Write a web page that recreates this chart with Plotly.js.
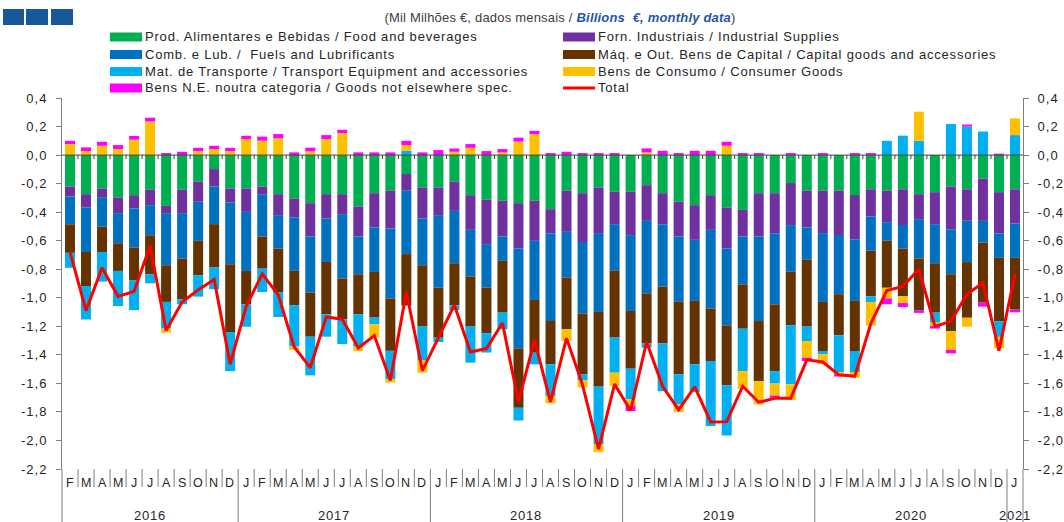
<!DOCTYPE html>
<html><head><meta charset="utf-8">
<script src="https://cdn.plot.ly/plotly-3.0.1.min.js"></script>
<style>
html,body{margin:0;padding:0;background:#fff;}
#chart{width:1064px;height:522px;}
.annotation-text{letter-spacing:0.8px;}
.ytick text, .y2tick text{letter-spacing:1px;}
</style></head><body><div id="chart"></div><script>
// ---- categories ----
const yearLabels = ['2016','2017','2018','2019','2020','2021'];
const fullYear = ['J','F','M','A','M','J','J','A','S','O','N','D'];
const yearMonths = [
  ['F','M','A','M','J','J','A','S','O','N','D'],
  fullYear, fullYear, fullYear, fullYear,
  ['J']
];
// ---- series (Mil Milhões € / Billions €) ----
const food = [-0.22,-0.274,-0.234,-0.297,-0.281,-0.243,-0.356,-0.243,-0.187,-0.098,-0.234,
  -0.234,-0.22,-0.274,-0.304,-0.337,-0.274,-0.274,-0.36,-0.267,-0.25,-0.133,-0.227,
  -0.227,-0.187,-0.281,-0.313,-0.32,-0.337,-0.32,-0.379,-0.25,-0.267,-0.227,-0.257,
  -0.257,-0.211,-0.267,-0.327,-0.351,-0.281,-0.367,-0.384,-0.267,-0.267,-0.196,-0.25,
  -0.25,-0.25,-0.28,-0.24,-0.25,-0.24,-0.274,-0.26,-0.22,-0.24,-0.164,-0.26,
  -0.24];
const industrial = [-0.07,-0.094,-0.061,-0.11,-0.094,-0.108,-0.051,-0.164,-0.14,-0.122,-0.098,
  -0.164,-0.054,-0.147,-0.133,-0.234,-0.171,-0.14,-0.211,-0.241,-0.264,-0.117,-0.218,
  -0.194,-0.204,-0.243,-0.311,-0.25,-0.318,-0.281,-0.168,-0.288,-0.342,-0.32,-0.227,
  -0.304,-0.25,-0.218,-0.243,-0.243,-0.243,-0.288,-0.187,-0.304,-0.281,-0.295,-0.257,
  -0.297,-0.31,-0.31,-0.19,-0.22,-0.25,-0.175,-0.224,-0.3,-0.22,-0.297,-0.29,
  -0.24];
const fuels = [-0.195,-0.311,-0.206,-0.211,-0.274,-0.211,-0.365,-0.318,-0.274,-0.264,-0.433,
  -0.414,-0.297,-0.234,-0.374,-0.393,-0.304,-0.451,-0.264,-0.311,-0.491,-0.444,-0.327,
  -0.508,-0.367,-0.327,-0.304,-0.171,-0.702,-0.414,-0.615,-0.32,-0.501,-0.552,-0.327,
  -0.531,-0.508,-0.437,-0.458,-0.428,-0.552,-0.538,-0.335,-0.592,-0.498,-0.327,-0.227,
  -0.482,-0.415,-0.432,-0.24,-0.13,-0.165,-0.276,-0.274,-0.315,-0.29,-0.152,-0.17,
  -0.24];
const machinery = [-0.2,-0.239,-0.178,-0.194,-0.227,-0.274,-0.257,-0.285,-0.241,-0.304,-0.475,
  -0.234,-0.225,-0.309,-0.241,-0.309,-0.367,-0.285,-0.281,-0.32,-0.367,-0.36,-0.43,
  -0.351,-0.295,-0.351,-0.32,-0.363,-0.414,-0.37,-0.304,-0.363,-0.428,-0.524,-0.468,
  -0.405,-0.351,-0.398,-0.508,-0.444,-0.367,-0.421,-0.311,-0.421,-0.468,-0.374,-0.468,
  -0.344,-0.288,-0.351,-0.32,-0.33,-0.335,-0.365,-0.346,-0.4,-0.39,-0.421,-0.444,
  -0.363];
const transport = [-0.105,-0.234,-0.208,-0.246,-0.211,-0.063,-0.187,-0.035,-0.15,-0.152,-0.274,
  -0.157,-0.164,-0.171,-0.29,-0.271,-0.157,-0.175,-0.227,-0.047,-0.199,0.03,-0.234,
  -0.03,-0.033,-0.253,-0.136,-0.117,-0.089,-0.082,-0.222,0,-0.04,-0.405,-0.246,
  -0.215,-0.03,-0.335,-0.211,-0.194,-0.456,-0.351,-0.297,0,-0.087,-0.414,-0.101,
  -0.023,-0.257,-0.147,-0.04,0.1,0.136,0.1,-0.07,0.218,0.2,0.165,-0.11,
  0.14];
const consumer = [0.077,0.028,0.065,0.042,0.108,0.236,-0.028,0,0.028,0.042,0.028,
  0.112,0.101,0.117,-0.023,0.026,0.112,0.154,-0.03,-0.094,-0.023,0.04,-0.089,
  0,0.023,0.051,0,0.019,0.094,0.147,-0.051,-0.082,-0.05,-0.054,-0.094,
  -0.047,0.019,0,-0.054,0,0,0.065,-0.124,-0.164,-0.084,-0.11,-0.117,
  -0.07,-0.016,-0.04,-0.165,-0.075,-0.047,0.204,-0.024,-0.13,-0.063,0,-0.08,
  0.117];
const other = [0.023,0.026,0.028,0.028,0.026,0.026,0.014,0.023,0.023,0.023,0.023,
  0.023,0.028,0.03,0.019,0.026,0.028,0.023,0.019,0.019,0.019,0.03,0.019,
  0.035,0.023,0.026,0.028,0.023,0.028,0.023,0.014,0.023,0.014,0.014,0.014,
  -0.035,0.028,0.03,0.014,0.03,0.03,0.028,0.014,0.014,-0.016,0.014,-0.023,
  0.014,-0.016,0.014,0.014,-0.04,-0.028,-0.016,-0.018,-0.025,0.014,-0.028,0.01,
  -0.019];
const total = [-0.68,-1.09,-0.79,-0.99,-0.955,-0.636,-1.23,-1.03,-0.945,-0.872,-1.465,
  -1.06,-0.833,-0.98,-1.345,-1.49,-1.134,-1.15,-1.352,-1.265,-1.58,-0.96,-1.51,
  -1.28,-1.05,-1.38,-1.356,-1.177,-1.73,-1.297,-1.73,-1.283,-1.61,-2.06,-1.605,
  -1.79,-1.31,-1.62,-1.785,-1.625,-1.87,-1.868,-1.62,-1.732,-1.705,-1.705,-1.435,
  -1.45,-1.54,-1.55,-1.18,-0.95,-0.92,-0.80,-1.2,-1.165,-0.975,-0.895,-1.37,
  -0.835];

const seriesNames = [
  'Prod. Alimentares e Bebidas / Food and beverages',
  'Forn. Industriais / Industrial Supplies',
  'Comb. e Lub. /  Fuels and Lubrificants',
  'Máq. e Out. Bens de Capital / Capital goods and accessories',
  'Mat. de Transporte / Transport Equipment and accessories',
  'Bens de Consumo / Consumer Goods',
  'Bens N.E. noutra categoria / Goods not elsewhere spec.'
];
const seriesColors = ['#00B050','#7030A0','#0070C0','#663300','#00B0F0','#FFC000','#FF00FF'];
const seriesValues = [food, industrial, fuels, machinery, transport, consumer, other];
const totalName = 'Total';
const totalColor = '#FF0000';

const yTicks = [0.4,0.2,0,-0.2,-0.4,-0.6,-0.8,-1.0,-1.2,-1.4,-1.6,-1.8,-2.0,-2.2];
const yTickText = yTicks.map(v => v.toFixed(1).replace('.', ','));

// ---- build ----
const monthLetters = [].concat(...yearMonths);
const idx = monthLetters.map((_, i) => i);
const N = monthLetters.length;

const traces = seriesValues.map((vals, k) => ({
  type: 'bar', x: idx, y: vals, name: seriesNames[k],
  marker: {color: seriesColors[k], line: {width: 0}},
  showlegend: false, hoverinfo: 'skip'
}));
traces.push({
  type: 'scatter', mode: 'lines', x: idx, y: total, name: totalName,
  line: {color: totalColor, width: 3}, yaxis: 'y2', showlegend: false, hoverinfo: 'skip'
});

const W = 1064, H = 522, L = 62, R = 41, T = 98, B = 53;
const pw = W - L - R, ph = H - T - B;
const px = x => (x - L) / pw;          // pixel -> paper x
const py = y => (H - B - y) / ph;      // pixel -> paper y

const font = 'Liberation Sans, Arial, sans-serif';
const txtColor = '#262626';
const shapes = [];
const annotations = [];

// zero line and its small ticks
shapes.push({type:'line', xref:'paper', yref:'y', x0:0, x1:1, y0:0, y1:0, line:{color:'#404040', width:1}, layer:'above'});
for (let i = 0; i < N - 1; i++) {
  shapes.push({type:'line', xref:'x', yref:'y', x0:i+0.5, x1:i+0.5, y0:0, y1:-0.028, line:{color:'#404040', width:1}, layer:'above'});
}
// category axis separators
let yearEnds = [];
let acc = 0;
yearMonths.forEach(m => { acc += m.length; yearEnds.push(acc - 1); });
for (let i = 0; i < N - 1; i++) {
  const isYear = yearEnds.includes(i);
  shapes.push({type:'line', xref:'x', yref:'paper', x0:i+0.5, x1:i+0.5, y0:0, y1: isYear ? py(H) : py(487),
    line:{color:'#7f7f7f', width:1}});
}
shapes.push({type:'line', xref:'paper', yref:'paper', x0:0, x1:0, y0:0, y1:py(H), line:{color:'#7f7f7f', width:1}});
shapes.push({type:'line', xref:'paper', yref:'paper', x0:1, x1:1, y0:0, y1:py(H), line:{color:'#7f7f7f', width:1}});

// month letters
monthLetters.forEach((m, i) => {
  annotations.push({x:i, xref:'x', y:py(483), yref:'paper', text:m, showarrow:false,
    xanchor:'center', yanchor:'middle', font:{family:font, size:12.5, color:txtColor}});
});
// year labels
let start = 0;
yearMonths.forEach((m, k) => {
  const c = (start + start + m.length - 1) / 2;
  annotations.push({x:c, xref:'x', y:py(515), yref:'paper', text:yearLabels[k], showarrow:false,
    xanchor:'center', yanchor:'middle', font:{family:font, size:13, color:txtColor}});
  start += m.length;
});

// manual legend (two columns, row-major in trace order)
const legNames = seriesNames.concat([totalName]);
const legColors = seriesColors.concat([totalColor]);
const colX = [110, 563];
const rowY = [37, 54.5, 71.5, 88];
legNames.forEach((n, k) => {
  const cx = colX[k % 2], ry = rowY[Math.floor(k / 2)];
  if (k < seriesNames.length) {
    shapes.push({type:'rect', xref:'paper', yref:'paper', x0:px(cx), x1:px(cx+32), y0:py(ry+4.5), y1:py(ry-4.5),
      fillcolor:legColors[k], line:{width:0}});
  } else {
    shapes.push({type:'line', xref:'paper', yref:'paper', x0:px(cx), x1:px(cx+32), y0:py(ry), y1:py(ry),
      line:{color:legColors[k], width:3}});
  }
  annotations.push({x:px(cx+33), xref:'paper', y:py(ry), yref:'paper', text:n, showarrow:false,
    xanchor:'left', yanchor:'middle', font:{family:font, size:13, color:txtColor}});
});

// title (no extra letter spacing)
const titleIndex = annotations.length;
annotations.push({x:px(560), xref:'paper', y:py(17), yref:'paper', showarrow:false, xanchor:'center', yanchor:'middle',
  text:'(Mil Milhões €, dados mensais / <b><i><span style="color:#1F56A5">Billions  €, monthly data</span></i></b>)',
  font:{family:font, size:13, color:'#404040'}});
const st = document.createElement('style');
st.textContent = '.annotation[data-index="' + titleIndex + '"] .annotation-text{letter-spacing:0.2px;}';
document.head.appendChild(st);

// logo squares
[[3,24],[26,48],[51,73]].forEach(([a,b]) => {
  shapes.push({type:'rect', xref:'paper', yref:'paper', x0:px(a), x1:px(b), y0:py(25), y1:py(9),
    fillcolor:'#17589B', line:{width:0}});
});

const yCommon = {
  range:[-2.2, 0.4], tickmode:'array', tickvals:yTicks, ticktext:yTickText,
  ticks:'outside', ticklen:5, tickcolor:'#7f7f7f', showline:true, linecolor:'#7f7f7f', linewidth:1,
  showgrid:false, zeroline:false, fixedrange:true, ticklabelstandoff:6,
  tickfont:{family:font, size:13, color:txtColor}
};

const layout = {
  width:W, height:H, margin:{l:L, r:R, t:T, b:B, pad:0},
  paper_bgcolor:'#ffffff', plot_bgcolor:'#ffffff',
  barmode:'relative', bargap:0.375, showlegend:false,
  xaxis:{range:[-0.5, N-0.5], showticklabels:false, ticks:'', showgrid:false, zeroline:false, showline:false, fixedrange:true},
  yaxis:Object.assign({side:'left'}, yCommon),
  yaxis2:Object.assign({side:'right', overlaying:'y', anchor:'x'}, yCommon),
  shapes:shapes, annotations:annotations
};

Plotly.newPlot('chart', traces, layout, {displayModeBar:false, staticPlot:true});
</script></body></html>
